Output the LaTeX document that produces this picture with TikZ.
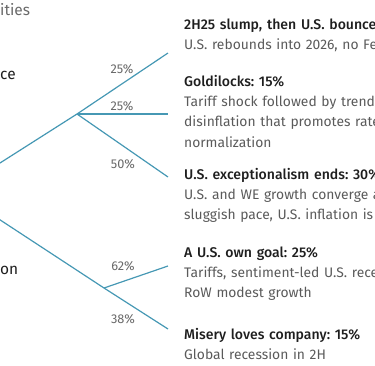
\documentclass[tikz,border=0pt]{standalone}
\usepackage{fontspec}
\setmainfont{Fira Sans}
\newfontfamily\headfont{Fira Sans Medium}
\usetikzlibrary{positioning}
\frenchspacing

\definecolor{branchblue}{RGB}{70,152,180}
\definecolor{headgrey}{RGB}{30,30,30}
\definecolor{bodygrey}{RGB}{90,90,90}
\definecolor{pctgrey}{RGB}{105,105,105}

\begin{document}
\begin{tikzpicture}[x=1bp, y=-1bp, node distance=20.4bp, on grid,
    branch/.style={draw=branchblue, line width=1.2bp},
    pct/.style={inner sep=0pt, text=pctgrey, font=\fontsize{12.8}{14}\selectfont},
    line/.style={inner sep=0pt, text width=320bp, align=left, text height=10bp, text depth=3bp},
    title/.style={line, anchor=base west, text=headgrey, font=\headfont\fontsize{14.1}{16}\selectfont},
    body/.style={line, text=bodygrey, font=\fontsize{13.9}{16}\selectfont},
    side/.style={anchor=base west, inner sep=0pt, font=\fontsize{15.5}{18}\selectfont}]
    \useasboundingbox (0,0) rectangle (375,366);
    \clip (0,0) rectangle (375,366);

    % left side labels
    \node[side, text=pctgrey] (head) at (0,15) {ities};
    \node[side, text=headgrey] (upper) at (0,79) {ce};
    \node[side, text=headgrey] (lower) at (0,274) {on};

    % tree
    \coordinate (root) at (-44,191);
    \coordinate (j1) at (77,114);
    \coordinate (j2) at (104,288);
    \coordinate (e1) at (168,53);
    \coordinate (e2) at (168,114);
    \coordinate (e3) at (168,177);
    \coordinate (e4) at (168,266);
    \coordinate (e5) at (168,329);

    \path[branch]
    (root) edge (j1)
    (j1) edge (e1)
    (j1) edge (e2)
    (j1) edge (e3)
    (root) edge (j2)
    (j2) edge (e4)
    (j2) edge (e5);

    \node[pct] (p1) at (122,69) {25\%};
    \node[pct] (p2) at (122,106) {25\%};
    \node[pct] (p3) at (123,164) {50\%};
    \node[pct] (p4) at (123,266) {62\%};
    \node[pct] (p5) at (123,319) {38\%};

    % scenarios
    \node[title] (t1) at (184,29) {2H25 slump, then U.S. bounce};
    \node[body] (s1) [below=of t1] {U.S. rebounds into 2026, no Fe};

    \node[title] (t2) at (184,86) {Goldilocks: 15\%};
    \node[body] (s2a) [below=of t2] {Tariff shock followed by trend};
    \node[body] (s2b) [below=of s2a] {disinflation that promotes rate};
    \node[body] (s2c) [below=of s2b] {normalization};

    \node[title] (t3) at (184,179) {U.S. exceptionalism ends: 30\%};
    \node[body] (s3a) [below=of t3] {U.S. and WE growth converge a};
    \node[body] (s3b) [below=of s3a] {sluggish pace, U.S. inflation is};

    \node[title] (t4) at (184,257) {A U.S. own goal: 25\%};
    \node[body] (s4a) [below=of t4] {Tariffs, sentiment-led U.S. rece};
    \node[body] (s4b) [below=of s4a] {RoW modest growth};

    \node[title] (t5) at (184,339) {Misery loves company: 15\%};
    \node[body] (s5) [below=of t5] {Global recession in 2H};
\end{tikzpicture}
\end{document}
